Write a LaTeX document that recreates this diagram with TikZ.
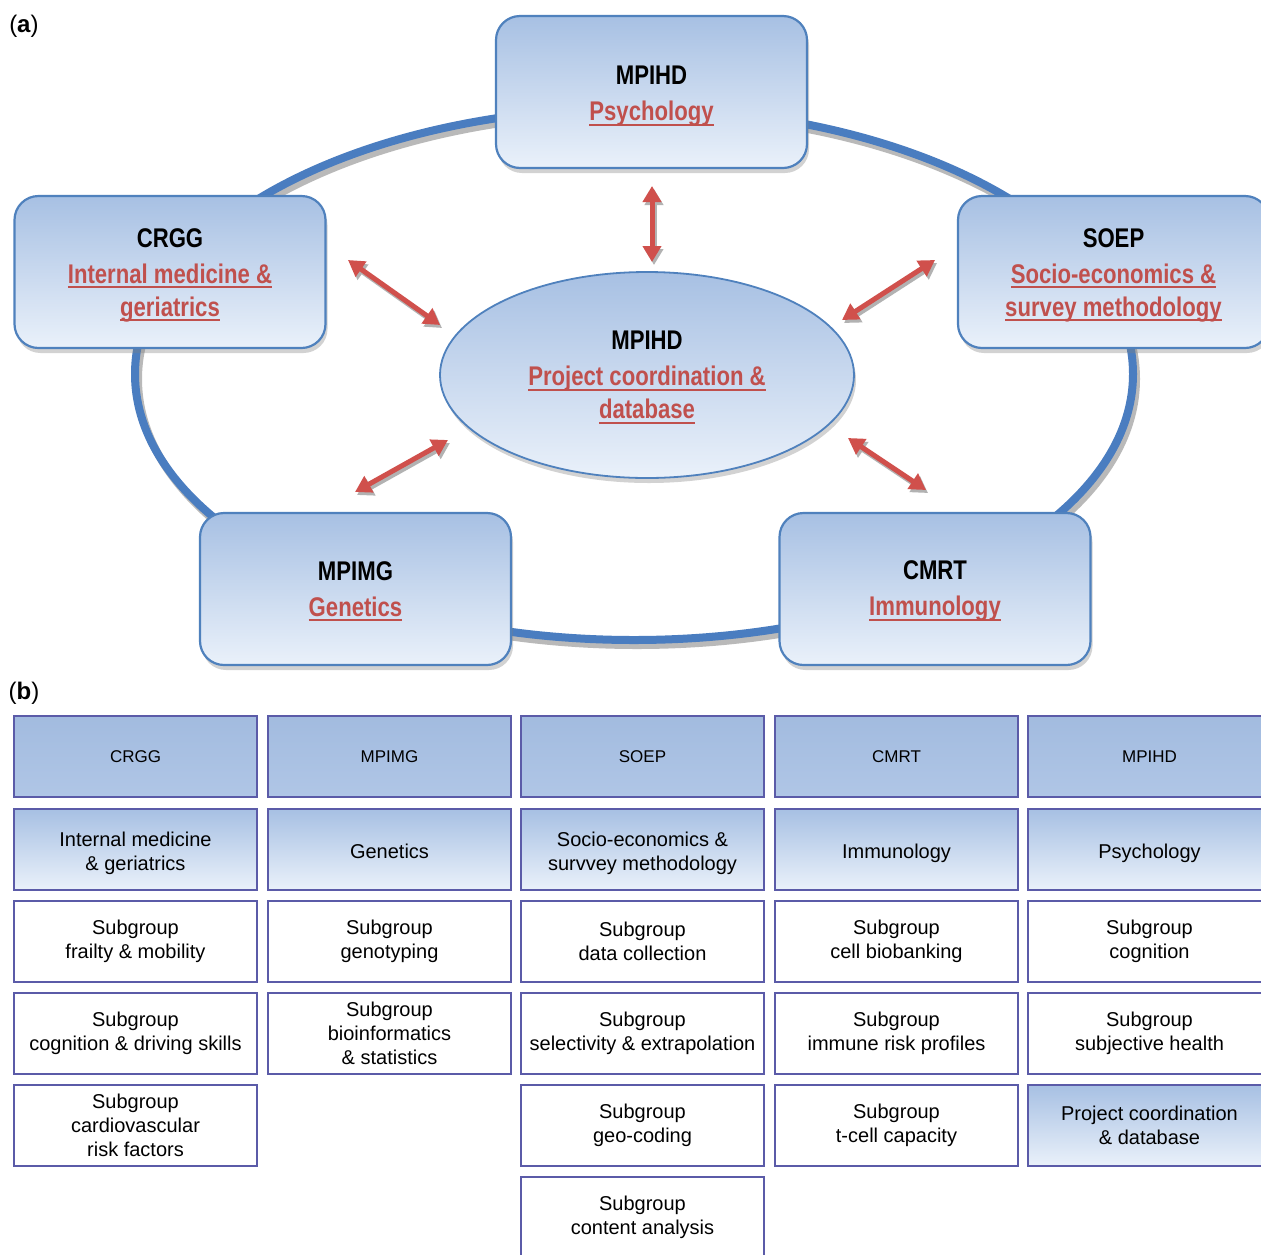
\documentclass[tikz,border=0pt]{standalone}
\usepackage{fontspec}
\setmainfont{Liberation Sans}
\newfontfamily\nb[FakeStretch=0.82]{Liberation Sans}
\usetikzlibrary{shapes.geometric,shadows,arrows.meta}
\definecolor{boxline}{HTML}{4F81BD}
\definecolor{boxtop}{HTML}{A7C0E3}
\definecolor{boxbot}{HTML}{EAF1FA}
\definecolor{redt}{HTML}{C0504D}
\definecolor{ringc}{HTML}{4A7DC0}
\definecolor{tline}{HTML}{5B5BA8}
\definecolor{headtop}{HTML}{A2BBDF}
\definecolor{headbot}{HTML}{B0C6E6}
\definecolor{arrc}{HTML}{D0504C}
\newcommand{\ru}[1]{\textcolor{redt}{\setbox0\hbox{#1}\rlap{\smash{\vrule height -3pt depth 5pt width \wd0}}\box0}}
\newcommand{\up}[1]{\rule{0pt}{#1}}
\begin{document}
\begin{tikzpicture}[x=1pt,y=-1pt,
  bigbox/.style={rounded corners=24pt, draw=boxline, line width=2.2pt,
    top color=boxtop, bottom color=boxbot, minimum width=311pt, minimum height=152pt,
    align=center, inner sep=0pt,
    drop shadow={shadow xshift=2pt, shadow yshift=-5pt, opacity=0.35},
    font=\nb\bfseries\fontsize{27}{33}\selectfont},
  centell/.style={ellipse, draw=boxline, line width=1.8pt,
    top color=boxtop, bottom color=boxbot, minimum width=414pt, minimum height=206pt,
    align=center, inner sep=0pt,
    drop shadow={shadow xshift=2pt, shadow yshift=-5pt, opacity=0.35},
    font=\nb\bfseries\fontsize{27}{33}\selectfont},
  arr/.style={line width=5pt, draw=arrc,
    arrows={Triangle[length=16pt,width=18pt]-Triangle[length=16pt,width=18pt]}},
  arrsh/.style={arr, draw=gray!60, transform canvas={shift={(2pt,-3pt)}}},
  tcell/.style={draw=tline, line width=1.6pt, minimum width=243pt, minimum height=81pt,
    inner sep=0pt, align=center, font=\fontsize{20}{24}\selectfont, fill=white},
  thead/.style={tcell, top color=headtop, bottom color=headbot,
    font=\fontsize{17}{20}\selectfont},
  tsub/.style={tcell, top color=boxtop, bottom color=boxbot},
  lab/.style={font=\fontsize{24}{28}\selectfont, inner sep=0pt}
]
\useasboundingbox (0,0) rectangle (1261,1254);
\clip (0,0) rectangle (1261,1254);
\fill[white] (0,0) rectangle (1261,1254);

% ---------- (a) ----------
\node[lab] (la) at (24,26) {(\textbf{a})};

% ring
\draw[gray!55, line width=8pt] (637,379) ellipse [x radius=499pt, y radius=266pt];
\draw[ringc, line width=8pt] (634,374) ellipse [x radius=499pt, y radius=266pt];

% boxes
\node[bigbox] (psy) at (651.5,92) {\up{27.3pt}MPIHD\\[3pt]\ru{Psychology}};
\node[bigbox] (crgg) at (170,272) {\up{25.3pt}CRGG\\[3pt]\ru{Internal medicine \&}\\\ru{geriatrics}};
\node[bigbox] (soep) at (1113.5,272) {\up{25.3pt}SOEP\\[3pt]\ru{Socio-economics \&}\\\ru{survey methodology}};
\node[bigbox] (mpimg) at (355.5,589) {MPIMG\\[3pt]\ru{Genetics}};
\node[bigbox] (cmrt) at (935,589) {\up{23.3pt}CMRT\\[3pt]\ru{Immunology}};
\node[centell] (mid) at (647,375) {MPIHD\\[3pt]\ru{Project coordination \&}\\\ru{database}};

% arrows
\coordinate (a1) at (652,186); \coordinate (a2) at (652,262);
\coordinate (b1) at (348,260); \coordinate (b2) at (440,325);
\coordinate (c1) at (935,260); \coordinate (c2) at (842,320);
\coordinate (d1) at (448,440); \coordinate (d2) at (355,492);
\coordinate (e1) at (848,438); \coordinate (e2) at (926,490);
\foreach \p/\q in {a1/a2,b1/b2,c1/c2,d1/d2,e1/e2}{
  \draw[arrsh] (\p) -- (\q);
  \draw[arr] (\p) -- (\q);
}

% ---------- (b) ----------
\node[lab] (lb) at (24,693) {(\textbf{b})};

% header row
\node[thead] (h1) at (135.5,756.5) {CRGG};
\node[thead] (h2) at (389.5,756.5) {MPIMG};
\node[thead] (h3) at (642.5,756.5) {SOEP};
\node[thead] (h4) at (896.5,756.5) {CMRT};
\node[thead] (h5) at (1149.5,756.5) {MPIHD};
% discipline row
\node[tsub] (s1) at (135.5,849.5) {\up{22.6pt}Internal medicine\\\& geriatrics};
\node[tsub] (s2) at (389.5,849.5) {\up{18.5pt}Genetics};
\node[tsub] (s3) at (642.5,849.5) {\up{22.6pt}Socio-economics \&\\survvey methodology};
\node[tsub] (s4) at (896.5,849.5) {\up{22.3pt}Immunology};
\node[tsub] (s5) at (1149.5,849.5) {\up{22.3pt}Psychology};
% row 3
\node[tcell] (r31) at (135.5,941.5) {Subgroup\\frailty \& mobility};
\node[tcell] (r32) at (389.5,941.5) {Subgroup\\genotyping};
\node[tcell] (r33) at (642.5,941.5) {Subgroup\\data collection};
\node[tcell] (r34) at (896.5,941.5) {Subgroup\\cell biobanking};
\node[tcell] (r35) at (1149.5,941.5) {Subgroup\\cognition};
% row 4
\node[tcell] (r41) at (135.5,1033.5) {Subgroup\\cognition \& driving skills};
\node[tcell] (r42) at (389.5,1033.5) {Subgroup\\bioinformatics\\\& statistics};
\node[tcell] (r43) at (642.5,1033.5) {Subgroup\\selectivity \& extrapolation};
\node[tcell] (r44) at (896.5,1033.5) {Subgroup\\immune risk profiles};
\node[tcell] (r45) at (1149.5,1033.5) {Subgroup\\subjective health};
% row 5
\node[tcell] (r51) at (135.5,1125.5) {Subgroup\\cardiovascular\\risk factors};
\node[tcell] (r53) at (642.5,1125.5) {Subgroup\\geo-coding};
\node[tcell] (r54) at (896.5,1125.5) {Subgroup\\t-cell capacity};
\node[tsub] (r55) at (1149.5,1125.5) {Project coordination\\\& database};
% row 6
\node[tcell] (r63) at (642.5,1217.5) {Subgroup\\content analysis};
\end{tikzpicture}
\end{document}
